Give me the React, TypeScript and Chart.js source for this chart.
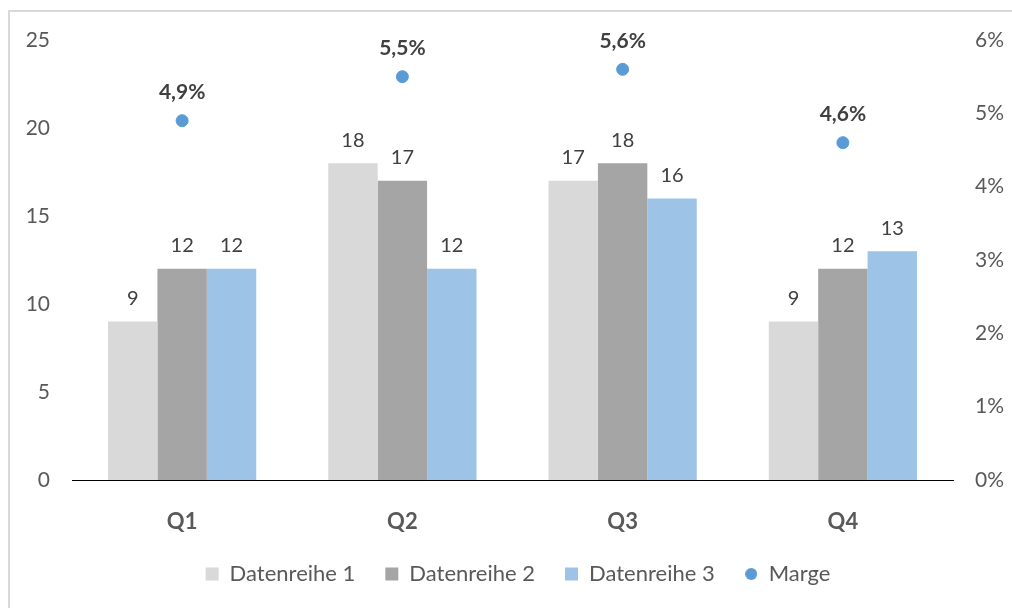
import React, { useEffect, useRef } from 'react';
import { Chart, registerables } from 'chart.js';

Chart.register(...registerables);

const categories = ['Q1', 'Q2', 'Q3', 'Q4'];
const series1 = [9, 18, 17, 9];
const series2 = [12, 17, 18, 12];
const series3 = [12, 12, 16, 13];
const marge = [4.9, 5.5, 5.6, 4.6];
const seriesNames = ['Datenreihe 1', 'Datenreihe 2', 'Datenreihe 3', 'Marge'];
const colors = ['#d9d9d9', '#a5a5a5', '#9dc3e6', '#5b9bd5'];

const FONT = 'Lato, "Open Sans", sans-serif';

const fmtPct = (v: number) => v.toFixed(1).replace('.', ',') + '%';

function makeCircle(d: number, color: string) {
  const c = document.createElement('canvas');
  c.width = d;
  c.height = d;
  const g = c.getContext('2d')!;
  g.fillStyle = color;
  g.beginPath();
  g.arc(d / 2, d / 2, d / 2, 0, Math.PI * 2);
  g.fill();
  return c;
}

const valueLabels = {
  id: 'valueLabels',
  afterDatasetsDraw(chart: any) {
    const { ctx } = chart;
    ctx.save();
    ctx.textAlign = 'center';
    ctx.textBaseline = 'middle';
    chart.data.datasets.forEach((ds: any, i: number) => {
      const meta = chart.getDatasetMeta(i);
      if (meta.hidden) return;
      meta.data.forEach((el: any, j: number) => {
        const v = ds.data[j];
        if (ds.type === 'line') {
          ctx.font = `bold 21px ${FONT}`;
          ctx.fillStyle = '#404040';
          ctx.fillText(fmtPct(v), el.x, el.y - 28);
        } else {
          ctx.font = `20px ${FONT}`;
          ctx.fillStyle = '#404040';
          ctx.fillText(String(v), el.x, el.y - 23);
        }
      });
    });
    ctx.restore();
  },
};

const legendShift = {
  id: 'legendShift',
  afterLayout(chart: any) {
    if (chart.legend) {
      chart.legend.left += 12;
      chart.legend.right += 12;
    }
  },
};

export default function App() {
  const ref = useRef<HTMLCanvasElement>(null);
  useEffect(() => {
    if (!ref.current) return;
    const circle = makeCircle(12, colors[3]);
    const chart = new Chart(ref.current, {
      type: 'bar',
      data: {
        labels: categories,
        datasets: [
          { type: 'bar', label: seriesNames[0], data: series1, backgroundColor: colors[0], yAxisID: 'y', order: 2 },
          { type: 'bar', label: seriesNames[1], data: series2, backgroundColor: colors[1], yAxisID: 'y', order: 2 },
          { type: 'bar', label: seriesNames[2], data: series3, backgroundColor: colors[2], yAxisID: 'y', order: 2 },
          {
            type: 'line',
            label: seriesNames[3],
            data: marge,
            yAxisID: 'y1',
            showLine: false,
            pointRadius: 6,
            pointHoverRadius: 6,
            pointBackgroundColor: colors[3],
            pointBorderColor: colors[3],
            backgroundColor: colors[3],
            borderColor: colors[3],
            order: 1,
          } as any,
        ],
      },
      options: {
        responsive: false,
        animation: false,
        events: [],
        datasets: { bar: { barPercentage: 1, categoryPercentage: 0.673 } },
        layout: { padding: { top: 40, left: 0, right: 0, bottom: 13 } },
        plugins: {
          tooltip: { enabled: false },
          legend: {
            position: 'bottom',
            labels: {
              usePointStyle: true,
              boxWidth: 13,
              boxHeight: 13,
              padding: 30,
              color: '#595959',
              font: { family: FONT, size: 22 },
              generateLabels: (ch: any) => {
                const items = (Chart.defaults.plugins.legend.labels as any).generateLabels(ch);
                return items
                  .slice()
                  .sort((a: any, b: any) => a.datasetIndex - b.datasetIndex)
                  .map((it: any) => ({
                    ...it,
                    pointStyle: it.datasetIndex === 3 ? circle : 'rect',
                    lineWidth: 0,
                    strokeStyle: 'rgba(0,0,0,0)',
                    fillStyle: colors[it.datasetIndex],
                  }));
              },
            },
          },
        },
        scales: {
          x: {
            grid: { display: false, drawTicks: false },
            border: { display: true, color: '#000000', width: 1 },
            ticks: {
              color: '#595959',
              font: { family: FONT, size: 22, weight: 'bold' },
              padding: 29,
            },
            afterFit: (s: any) => {
              s.height = 53;
            },
          },
          y: {
            position: 'left',
            min: 0,
            max: 25,
            grid: { display: false, drawTicks: false },
            border: { display: false },
            ticks: {
              stepSize: 5,
              color: '#595959',
              padding: 22,
              font: { family: FONT, size: 21 },
            },
            afterFit: (s: any) => {
              s.width = 72;
            },
          },
          y1: {
            position: 'right',
            min: 0,
            max: 6,
            grid: { display: false, drawTicks: false },
            border: { display: false },
            ticks: {
              stepSize: 1,
              color: '#595959',
              padding: 22,
              font: { family: FONT, size: 21 },
              callback: (v: any) => v + '%',
            },
            afterFit: (s: any) => {
              s.width = 59;
            },
          },
        },
      },
      plugins: [valueLabels, legendShift],
    });
    return () => chart.destroy();
  }, []);

  return (
    <>
      <div
        style={{
          position: 'absolute',
          left: 8,
          top: 10,
          width: 1004,
          height: 598,
          boxSizing: 'border-box',
          borderTop: '2px solid #d9d9d9',
          borderLeft: '2px solid #d9d9d9',
        }}
      />
      <canvas
        ref={ref}
        width={1012}
        height={608}
        style={{ position: 'absolute', left: 0, top: 0, width: 1012, height: 608 }}
      />
    </>
  );
}
